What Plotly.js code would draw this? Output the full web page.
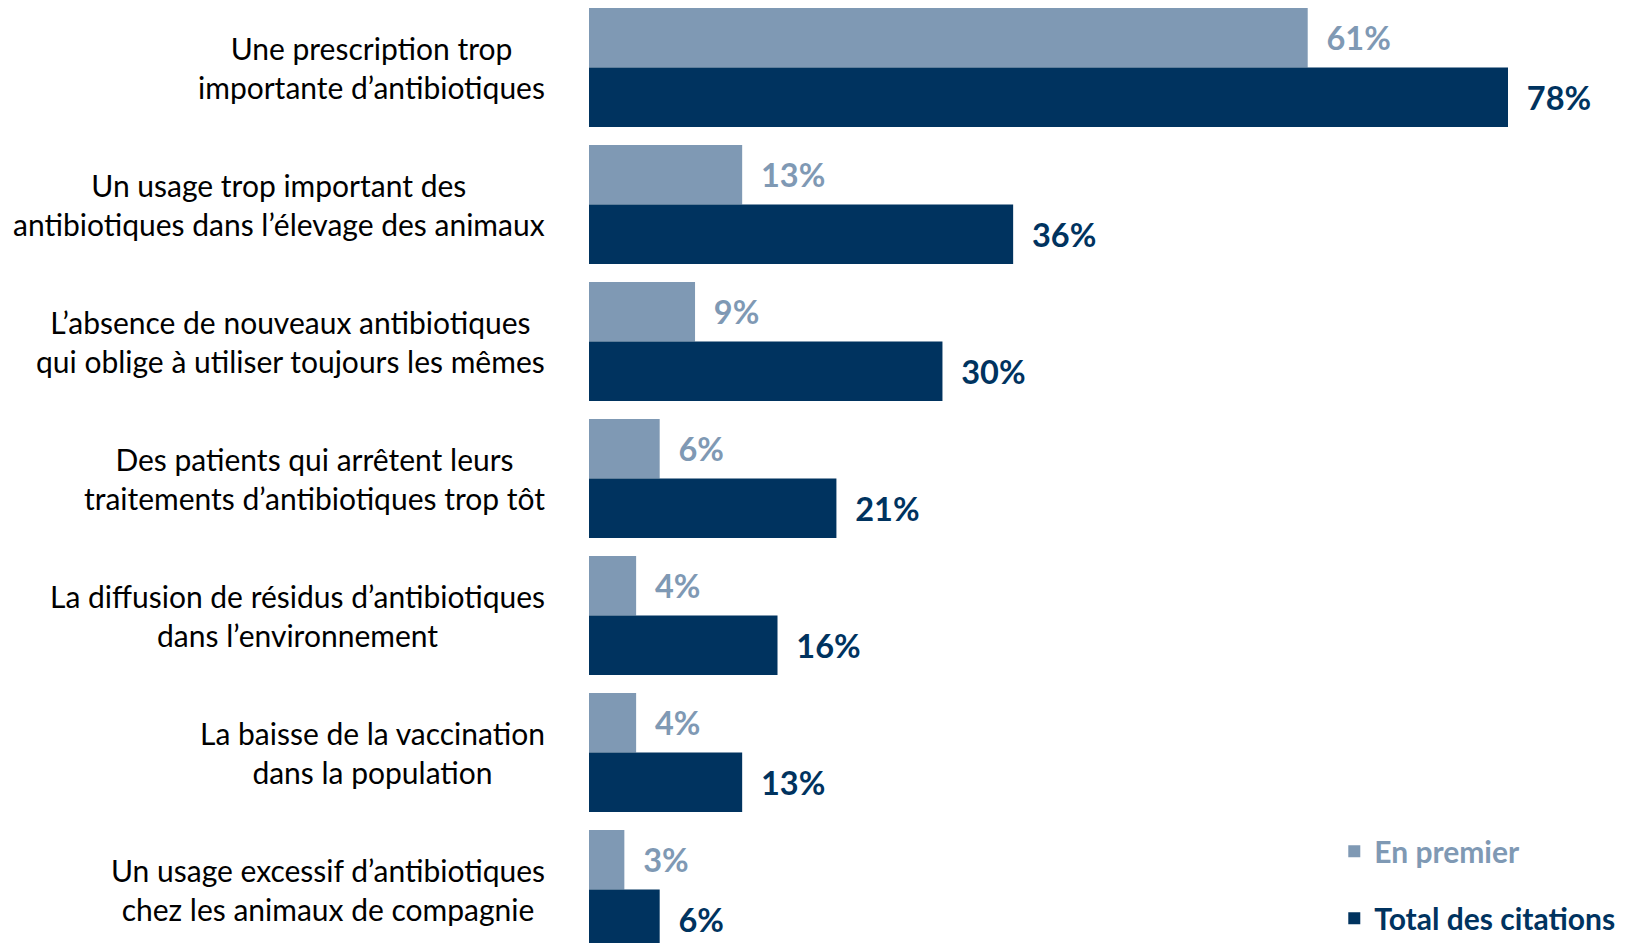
<!DOCTYPE html>
<html>
<head>
<meta charset="utf-8">
<script src="https://cdn.plot.ly/plotly-3.0.1.min.js"></script>
<style>html,body{margin:0;padding:0;background:#fff;}#chart{width:1627px;height:943px;}</style>
</head>
<body>
<div id="chart"></div>
<script>
const categories = [
  "Une prescription trop<br>importante d’antibiotiques",
  "Un usage trop important des<br>antibiotiques dans l’élevage des animaux",
  "L’absence de nouveaux antibiotiques<br>qui oblige à utiliser toujours les mêmes",
  "Des patients qui arrêtent leurs<br>traitements d’antibiotiques trop tôt",
  "La diffusion de résidus d’antibiotiques<br>dans l’environnement",
  "La baisse de la vaccination<br>dans la population",
  "Un usage excessif d’antibiotiques<br>chez les animaux de compagnie"
];
const enPremier = [61, 13, 9, 6, 4, 4, 3];
const totalCitations = [78, 36, 30, 21, 16, 13, 6];
const seriesNames = ["En premier", "Total des citations"];

const LIGHT = "#7f99b4";
const DARK = "#00335f";
const FONT = "Lato, 'Open Sans', sans-serif";
const NB = "\u00a0\u00a0";

const idx = categories.map((c, i) => i);

const traces = [
  {
    type: "bar", orientation: "h", x: enPremier, y: idx,
    name: '<b><span style="color:' + LIGHT + '">' + seriesNames[0] + '</span></b>',
    marker: {color: LIGHT},
    text: enPremier.map(v => NB + v + "%"), textposition: "outside",
    textfont: {family: FONT, size: 32.5, color: LIGHT, weight: "bold"},
    constraintext: "none", cliponaxis: false, hoverinfo: "skip",
    legendgroup: "a"
  },
  {
    type: "bar", orientation: "h", x: totalCitations, y: idx,
    name: '<b><span style="color:' + DARK + '">' + seriesNames[1] + '</span></b>',
    marker: {color: DARK},
    text: totalCitations.map(v => NB + v + "%"), textposition: "outside",
    textfont: {family: FONT, size: 32.5, color: DARK, weight: "bold"},
    constraintext: "none", cliponaxis: false, hoverinfo: "skip",
    legendgroup: "b"
  }
];

const annotations = categories.map((c, i) => ({
  text: c, x: 0, xref: "paper", y: i, yref: "y",
  xanchor: "right", yanchor: "middle", align: "center", xshift: -42,
  showarrow: false,
  font: {family: FONT, size: 30, color: "#000"}
}));

const layout = {
  width: 1627, height: 943,
  margin: {l: 589, r: 0, t: 0, b: 0, pad: 0, autoexpand: false},
  paper_bgcolor: "#fff", plot_bgcolor: "#fff",
  barmode: "group", bargap: 0.132, bargroupgap: 0,
  xaxis: {range: [0, 88.1], visible: false, fixedrange: true},
  yaxis: {range: [6.3905, -0.4927], visible: false, fixedrange: true},
  showlegend: true,
  legend: {
    x: 0.718, y: 0.125, xanchor: "left", yanchor: "top",
    font: {family: FONT, size: 30},
    tracegroupgap: 25, traceorder: "grouped", bgcolor: "rgba(0,0,0,0)"
  },
  annotations: annotations,
  font: {family: FONT}
};

Plotly.newPlot("chart", traces, layout, {displayModeBar: false, staticPlot: true});
</script>
</body>
</html>
